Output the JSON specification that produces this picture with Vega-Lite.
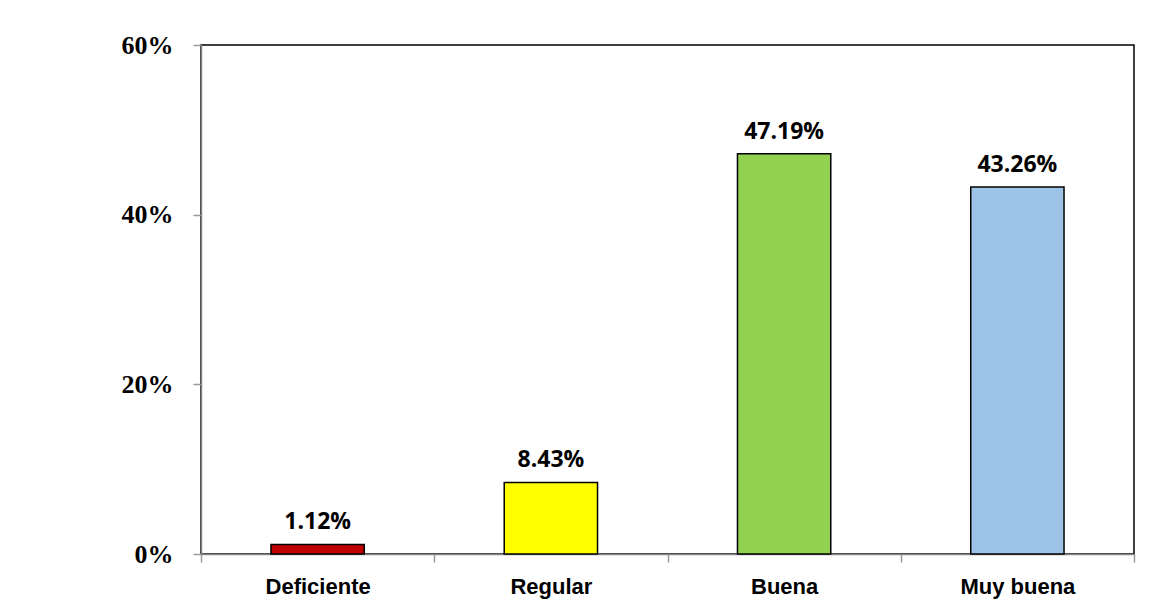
{
  "$schema": "https://vega.github.io/schema/vega-lite/v6.json",
  "width": 933,
  "height": 509,
  "autosize": {"type": "none"},
  "padding": {"left": 201, "top": 45, "right": 36, "bottom": 51},
  "background": "white",
  "data": {
    "values": [
      {"cat": "Deficiente", "pct": 0.0112},
      {"cat": "Regular", "pct": 0.0843},
      {"cat": "Buena", "pct": 0.4719},
      {"cat": "Muy buena", "pct": 0.4326}
    ]
  },
  "encoding": {
    "x": {
      "field": "cat", "type": "nominal", "sort": null,
      "scale": {"paddingInner": 0, "paddingOuter": 0},
      "axis": {
        "title": null, "labelAngle": 0, "ticks": true, "tickBand": "extent",
        "labelFont": "Liberation Sans", "labelFontWeight": "bold", "labelFontSize": 22,
        "labelColor": "black", "labelPadding": 14, "tickSize": 8,
        "domainColor": "#868686", "tickColor": "#9a9a9a", "domainWidth": 1.5, "tickWidth": 1.5
      }
    },
    "y": {
      "field": "pct", "type": "quantitative",
      "scale": {"domain": [0, 0.6], "nice": false},
      "axis": {
        "title": null, "values": [0, 0.2, 0.4, 0.6], "format": ".0%", "grid": false,
        "labelFont": "Liberation Serif", "labelFontWeight": "bold", "labelFontSize": 26,
        "labelColor": "black", "labelPadding": 20, "tickSize": 8,
        "domainColor": "#868686", "tickColor": "#9a9a9a", "domainWidth": 1.5, "tickWidth": 1.5
      }
    }
  },
  "layer": [
    {
      "mark": {"type": "bar", "stroke": "black", "strokeWidth": 1.5, "width": {"band": 0.4}},
      "encoding": {
        "color": {
          "field": "cat", "type": "nominal", "legend": null,
          "scale": {
            "domain": ["Deficiente", "Regular", "Buena", "Muy buena"],
            "range": ["#C00000", "#FFFF00", "#92D050", "#9DC3E6"]
          }
        }
      }
    },
    {
      "mark": {"type": "text", "baseline": "bottom", "dy": -10, "font": "Open Sans", "fontWeight": "bold", "fontSize": 23, "color": "black"},
      "encoding": {
        "text": {"field": "pct", "type": "quantitative", "format": ".2%"}
      }
    }
  ],
  "config": {
    "view": {"stroke": "black", "strokeWidth": 1.5},
    "axisBand": {"ticks": true}
  }
}
